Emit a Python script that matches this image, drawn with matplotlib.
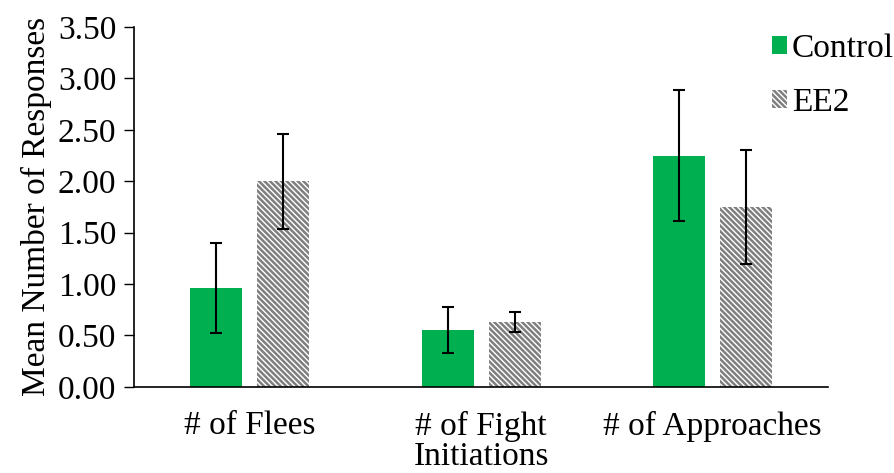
import numpy as np
import matplotlib.pyplot as plt

plt.rcParams['font.family'] = ['Liberation Serif', 'DejaVu Serif']
plt.rcParams['hatch.color'] = '#7f7f7f'
plt.rcParams['hatch.linewidth'] = 1.8

categories = ["# of Flees", "# of Fight\nInitiations", "# of Approaches"]
control = [0.96, 0.55, 2.25]
control_err = [0.44, 0.225, 0.64]
ee2 = [2.00, 0.63, 1.75]
ee2_err = [0.46, 0.10, 0.55]
yticks = [0.0, 0.5, 1.0, 1.5, 2.0, 2.5, 3.0, 3.5]

fig = plt.figure(figsize=(8.95, 4.73), dpi=100)
ax = fig.add_axes([0.15, 0.182, 0.775, 0.761])

x = np.arange(len(categories))
w = 0.225
off = 0.145
ekw = dict(elinewidth=1.5, capthick=1.5, ecolor="black")
ax.bar(x - off, control, w, color="#00B050", label="Control",
       yerr=control_err, capsize=4.5, error_kw=ekw)
ax.bar(x + off, ee2, w, color="white", edgecolor="#7f7f7f", linewidth=0, hatch="\\\\\\\\\\\\",
       label="EE2", yerr=ee2_err, capsize=4.5, error_kw=ekw)

ax.set_xlim(-0.5, 2.5)
ax.set_ylim(0, 3.5)
ax.set_yticks(yticks)
ax.set_yticklabels([f"{t:.2f}" for t in yticks])
ax.set_xticks(x)
ax.set_xticklabels(categories, va="top", linespacing=1.0)
ax.tick_params(axis="x", length=0, pad=17, labelsize=24)
ax.tick_params(axis="y", direction="out", length=7, width=1, pad=6, labelsize=24)
ax.spines["top"].set_visible(False)
ax.spines["right"].set_visible(False)
ax.spines["left"].set_linewidth(1.2)
ax.spines["bottom"].set_linewidth(1.2)
ax.set_ylabel("Mean Number of Responses", fontsize=24, labelpad=4)

ax.legend(loc="upper left", bbox_to_anchor=(0.91, 1.0), frameon=False, fontsize=24,
          handlelength=0.45, handleheight=0.45, handletextpad=0.15, labelspacing=0.7,
          borderaxespad=0, borderpad=0.2)

fig.savefig("out.png", dpi=100)
